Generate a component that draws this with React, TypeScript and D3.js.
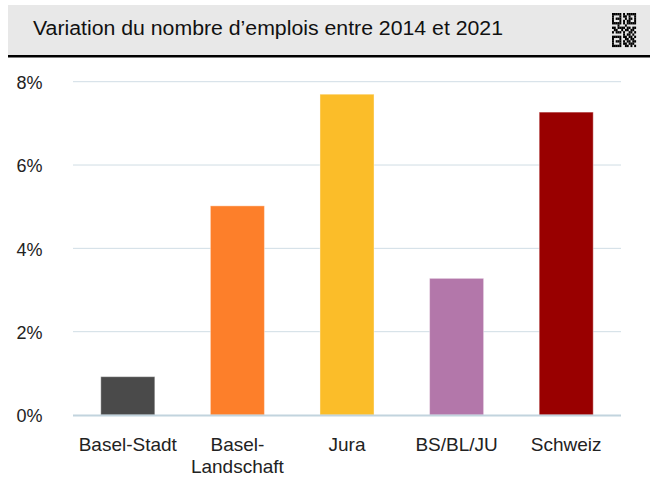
import React from "react";
import * as d3 from "d3";

const categories = ["Basel-Stadt", "Basel-\nLandschaft", "Jura", "BS/BL/JU", "Schweiz"];
const values = [0.92, 5.02, 7.7, 3.28, 7.27];
const colors = ["#4a4a4a", "#fd7f2a", "#fbbd29", "#b377aa", "#990000"];
const yTicks = [0, 2, 4, 6, 8];
const title = "Variation du nombre d\u2019emplois entre 2014 et 2021";

// simple QR-like pattern (decorative)
const qrRows = [
  "1111101011111",
  "1000101101001",
  "1011100101101",
  "1000101011001",
  "1111101011111",
  "0001000100000",
  "1101111011011",
  "0110010110110",
  "1011101001101",
  "0000001011010",
  "1111101101101",
  "1000100110110",
  "1011101011011",
  "1000101101110",
  "1111100110101",
];

export default function App() {
  const W = 650, H = 477;
  const x = d3.scaleBand<string>().domain(categories).range([73, 621]).paddingInner(0.507).paddingOuter(0.2535);
  const y = d3.scaleLinear().domain([0, 8]).range([415, 81.7]);
  const font = "'Liberation Sans', Arial, Helvetica, sans-serif";
  const qrCell = 24 / 13;
  const qrCellH = 34 / 15;
  return (
    <svg width={W} height={H} style={{ position: "absolute", left: 0, top: 0 }} fontFamily={font}>
      <rect x={0} y={0} width={W} height={H} fill="#fff" />
      <rect x={8} y={5} width={642} height={50} fill="#e8e8e8" />
      <rect x={8} y={55} width={642} height={2.5} fill="#000" />
      <text x={33} y={34.5} fontSize={20} fill="#111" textLength={470} lengthAdjust="spacingAndGlyphs">{title}</text>
      <g>
        {qrRows.map((row, i) =>
          row.split("").map((c, j) =>
            c === "1" ? (
              <rect key={`${i}-${j}`} x={612 + j * qrCell} y={13 + i * qrCellH} width={qrCell + 0.1} height={qrCellH + 0.1} fill="#000" />
            ) : null
          )
        )}
      </g>
      {yTicks.map((t) => (
        <g key={t}>
          {t !== 0 && <line x1={73} x2={621} y1={y(t)} y2={y(t)} stroke="#d0dde5" strokeWidth={1} />}
          <text x={42.5} y={y(t) + 1} dy="0.35em" textAnchor="end" fontSize={18} fill="#222">{`${t}%`}</text>
        </g>
      ))}
      {categories.map((c, i) => (
        <rect
          key={c}
          x={x(c)!}
          y={y(values[i])}
          width={x.bandwidth()}
          height={y(0) - y(values[i])}
          fill={colors[i]}
          stroke="#ffffff"
          strokeOpacity={0.4}
          strokeWidth={1}
        />
      ))}
      <line x1={73} x2={621} y1={y(0) + 0.5} y2={y(0) + 0.5} stroke="#c2d4de" strokeWidth={2} />
      {categories.map((c) => (
        <text key={c} x={x(c)! + x.bandwidth() / 2} y={450.5} textAnchor="middle" fontSize={19} fill="#222">
          {c.split("\n").map((line, k) => (
            <tspan key={k} x={x(c)! + x.bandwidth() / 2} dy={k === 0 ? 0 : 22.5}>{line}</tspan>
          ))}
        </text>
      ))}
    </svg>
  );
}
